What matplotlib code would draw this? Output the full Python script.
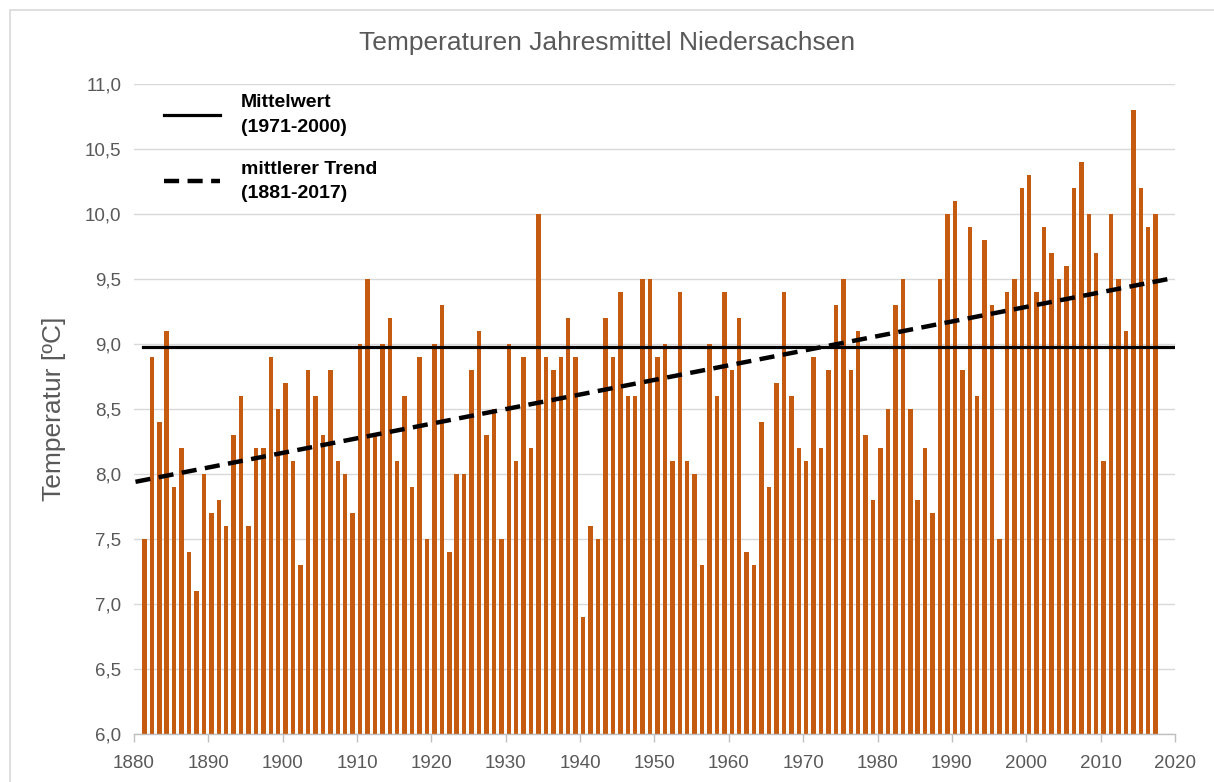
import numpy as np
import matplotlib
matplotlib.use("Agg")
import matplotlib.pyplot as plt
from matplotlib.patches import Rectangle
from matplotlib.ticker import FuncFormatter

plt.rcParams['font.family'] = ['Liberation Sans', 'DejaVu Sans']

# annual mean temperatures, Niedersachsen, 1881-2017
years = np.arange(1881, 2018)
temps = [
    7.5, 8.9, 8.4, 9.1, 7.9, 8.2, 7.4, 7.1, 8.0, 7.7,
    7.8, 7.6, 8.3, 8.6, 7.6, 8.2, 8.2, 8.9, 8.5, 8.7,
    8.1, 7.3, 8.8, 8.6, 8.3, 8.8, 8.1, 8.0, 7.7, 9.0,
    9.5, 8.3, 9.0, 9.2, 8.1, 8.6, 7.9, 8.9, 7.5, 9.0,
    9.3, 7.4, 8.0, 8.0, 8.8, 9.1, 8.3, 8.5, 7.5, 9.0,
    8.1, 8.9, 8.2, 10.0, 8.9, 8.8, 8.9, 9.2, 8.9, 6.9,
    7.6, 7.5, 9.2, 8.9, 9.4, 8.6, 8.6, 9.5, 9.5, 8.9,
    9.0, 8.1, 9.4, 8.1, 8.0, 7.3, 9.0, 8.6, 9.4, 8.8,
    9.2, 7.4, 7.3, 8.4, 7.9, 8.7, 9.4, 8.6, 8.2, 8.1,
    8.9, 8.2, 8.8, 9.3, 9.5, 8.8, 9.1, 8.3, 7.8, 8.2,
    8.5, 9.3, 9.5, 8.5, 7.8, 8.2, 7.7, 9.5, 10.0, 10.1,
    8.8, 9.9, 8.6, 9.8, 9.3, 7.5, 9.4, 9.5, 10.2, 10.3,
    9.4, 9.9, 9.7, 9.5, 9.6, 10.2, 10.4, 10.0, 9.7, 8.1,
    10.0, 9.5, 9.1, 10.8, 10.2, 9.9, 10.0,
]

# reference mean 1971-2000 and linear trend end points (as in picture)
ref_years = (1971, 2000)
trend_x = [1880.2, 2020.0]
trend_y = [7.94, 9.51]

temps = np.array(temps)
sel = (years >= ref_years[0]) & (years <= ref_years[1])
mittel = temps[sel].mean()

bar_col = "#C55A11"
grey_txt = "#595959"

fig = plt.figure(figsize=(12.14, 7.82), dpi=100)
fig.patches.append(Rectangle((10 / 1214, -0.05), 1.1, 1.05 - 10 / 782,
                             transform=fig.transFigure, fill=False,
                             edgecolor="#d9d9d9", lw=1.2))
ax = fig.add_axes([134 / 1214, 1 - 734 / 782, 1041 / 1214, 650 / 782])

ax.bar(years + 0.4, temps - 6.0, bottom=6.0, width=0.6, color=bar_col, zorder=2)
ax.plot([1881.2, 2019.7], [mittel, mittel], color="black", lw=2.3, zorder=3,
        label="Mittelwert\n(1971-2000)")
ax.plot(trend_x, trend_y, color="black", lw=3.2, ls=(0, (3.4, 1.9)), zorder=3,
        label="mittlerer Trend\n(1881-2017)")

ax.set_xlim(1880, 2020)
ax.set_ylim(6.0, 11.0)
ax.set_xticks(np.arange(1880, 2021, 10))
ax.set_yticks(np.arange(6.0, 11.01, 0.5))
ax.yaxis.set_major_formatter(FuncFormatter(lambda v, p: f"{v:.1f}".replace(".", ",")))
ax.grid(axis="y", color="#d9d9d9", lw=1, zorder=0)
ax.set_axisbelow(True)

for s in ["top", "right", "left"]:
    ax.spines[s].set_visible(False)
ax.spines["bottom"].set_color("#bfbfbf")
ax.spines["bottom"].set_linewidth(1)
ax.tick_params(axis="x", colors="#bfbfbf", length=6, width=1, labelcolor=grey_txt,
               labelsize=13.5, pad=9)
ax.tick_params(axis="y", length=0, labelcolor=grey_txt, labelsize=13.5, pad=9)

ax.set_ylabel("Temperatur [ºC]", fontsize=19, color=grey_txt, labelpad=14)
fig.text(0.5, 1 - 43 / 782, "Temperaturen Jahresmittel Niedersachsen",
         ha="center", va="center", fontsize=19, color=grey_txt)

leg = ax.legend(loc="upper left", bbox_to_anchor=(0.029, 0.984), frameon=False,
                borderaxespad=0, borderpad=0, handlelength=2.85, handletextpad=1.1,
                labelspacing=1.25, prop={"size": 14, "weight": "bold"})
for t in leg.get_texts():
    t.set_linespacing(1.6)

fig.savefig("out.png", dpi=100)
